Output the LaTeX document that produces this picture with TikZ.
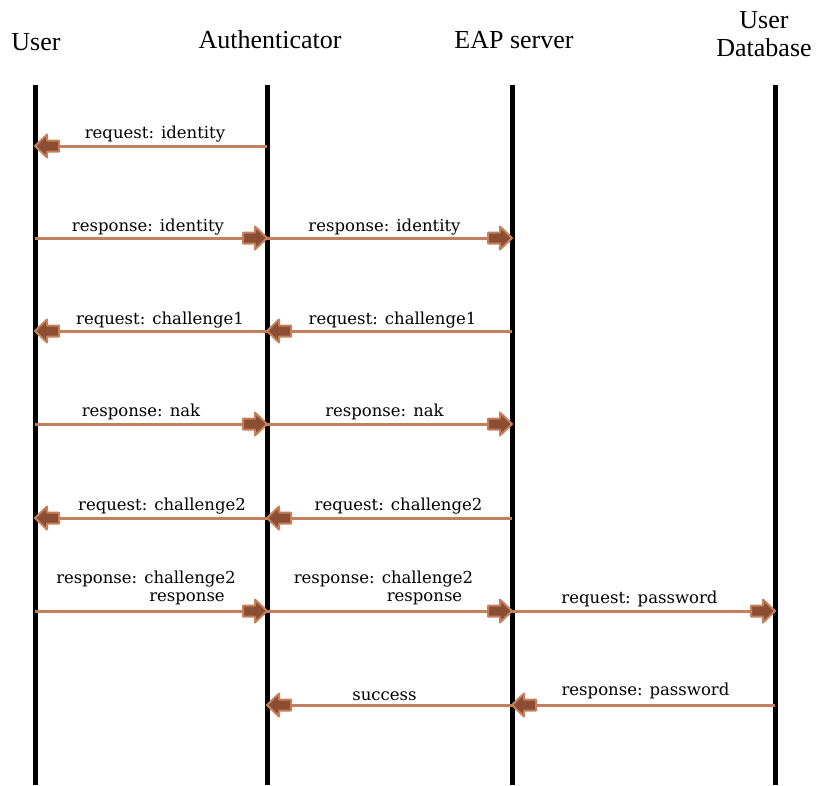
\documentclass[tikz,border=0pt]{standalone}
\usepackage{fontspec}
\setmainfont{Liberation Serif}
\newfontfamily\labfont{DejaVu Serif}
\usetikzlibrary{calc}
\definecolor{linec}{RGB}{196,128,92}
\definecolor{headfill}{RGB}{140,78,50}
\begin{document}
\begin{tikzpicture}[x=1pt,y=1pt,
  life/.style={line width=5pt,black},
  msg/.style={line width=3pt,linec},
  bhead/.pic={\filldraw[fill=headfill,draw=linec,line width=2pt,line join=round]
     (0,0) -- (-12,11.5) -- (-12,5.5) -- (-24,5.5) -- (-24,-5.5) -- (-12,-5.5) -- (-12,-11.5) -- cycle;},
  lab/.style={font=\labfont\fontsize{16.5}{19}\selectfont, inner sep=0pt},
  hdr/.style={font=\fontsize{26}{31}\selectfont, inner sep=0pt, align=center}]
\useasboundingbox (0,0) rectangle (816,-785);
% lifeline coordinates
\foreach \n/\x in {U/35,A/267,E/512,D/775}{
  \coordinate (\n0) at (\x,-85);
  \coordinate (\n8) at (\x,-785);
  \foreach \r/\y in {1/146,2/238,3/331,4/424,5/518,6/611,7/705}{
    \coordinate (\n\r) at (\x,-\y);
  }
}
% headers
\node[hdr] (hU) at (36,-42) {User};
\node[hdr] (hA) at (270,-40) {Authenticator};
\node[hdr] (hE) at (514,-40) {EAP server};
\node[hdr] (hD) at (764,-34) {User\\[-3pt]Database};
% lifelines
\draw[life] (U0) -- (U8);
\draw[life] (A0) -- (A8);
\draw[life] (E0) -- (E8);
\draw[life] (D0) -- (D8);
% row 1
\draw[msg] (A1) -- (U1);
\pic[rotate=180] at (U1) {bhead};
\node[lab] (l1) at ($(U1)!0.5!(A1)+(4,12)$) {request: identity};
% row 2
\draw[msg] (U2) -- (A2);
\pic at (A2) {bhead};
\node[lab] (l2a) at ($(U2)!0.5!(A2)+(-3,11)$) {response: identity};
\draw[msg] (A2) -- (E2);
\pic at (E2) {bhead};
\node[lab] (l2b) at ($(A2)!0.5!(E2)+(-5,11)$) {response: identity};
% row 3
\draw[msg] (E3) -- (A3);
\pic[rotate=180] at (A3) {bhead};
\node[lab] (l3a) at ($(A3)!0.5!(E3)+(3,11)$) {request: challenge1};
\draw[msg] (A3) -- (U3);
\pic[rotate=180] at (U3) {bhead};
\node[lab] (l3b) at ($(U3)!0.5!(A3)+(9,11)$) {request: challenge1};
% row 4
\draw[msg] (U4) -- (A4);
\pic at (A4) {bhead};
\node[lab] (l4a) at ($(U4)!0.5!(A4)+(-10,12)$) {response: nak};
\draw[msg] (A4) -- (E4);
\pic at (E4) {bhead};
\node[lab] (l4b) at ($(A4)!0.5!(E4)+(-5,12)$) {response: nak};
% row 5
\draw[msg] (E5) -- (A5);
\pic[rotate=180] at (A5) {bhead};
\node[lab] (l5a) at ($(A5)!0.5!(E5)+(9,12)$) {request: challenge2};
\draw[msg] (A5) -- (U5);
\pic[rotate=180] at (U5) {bhead};
\node[lab] (l5b) at ($(U5)!0.5!(A5)+(11,12)$) {request: challenge2};
% row 6
\draw[msg] (U6) -- (A6);
\pic at (A6) {bhead};
\node[lab] (l6a) at ($(U6)!0.5!(A6)+(-5,32)$) {response: challenge2};
\node[lab] (l6a2) at ($(U6)!0.5!(A6)+(36,12)$) {response};
\draw[msg] (A6) -- (E6);
\pic at (E6) {bhead};
\node[lab] (l6b) at ($(A6)!0.5!(E6)+(-6,32)$) {response: challenge2};
\node[lab] (l6b2) at ($(A6)!0.5!(E6)+(35,12)$) {response};
\draw[msg] (E6) -- (D6);
\pic at (D6) {bhead};
\node[lab] (l6c) at ($(E6)!0.5!(D6)+(-4,12)$) {request: password};
% row 7
\draw[msg] (D7) -- (E7);
\pic[rotate=180] at (E7) {bhead};
\node[lab] (l7a) at ($(E7)!0.5!(D7)+(2,14)$) {response: password};
\draw[msg] (E7) -- (A7);
\pic[rotate=180] at (A7) {bhead};
\node[lab] (l7b) at ($(A7)!0.5!(E7)+(-5,9)$) {success};
\end{tikzpicture}
\end{document}
